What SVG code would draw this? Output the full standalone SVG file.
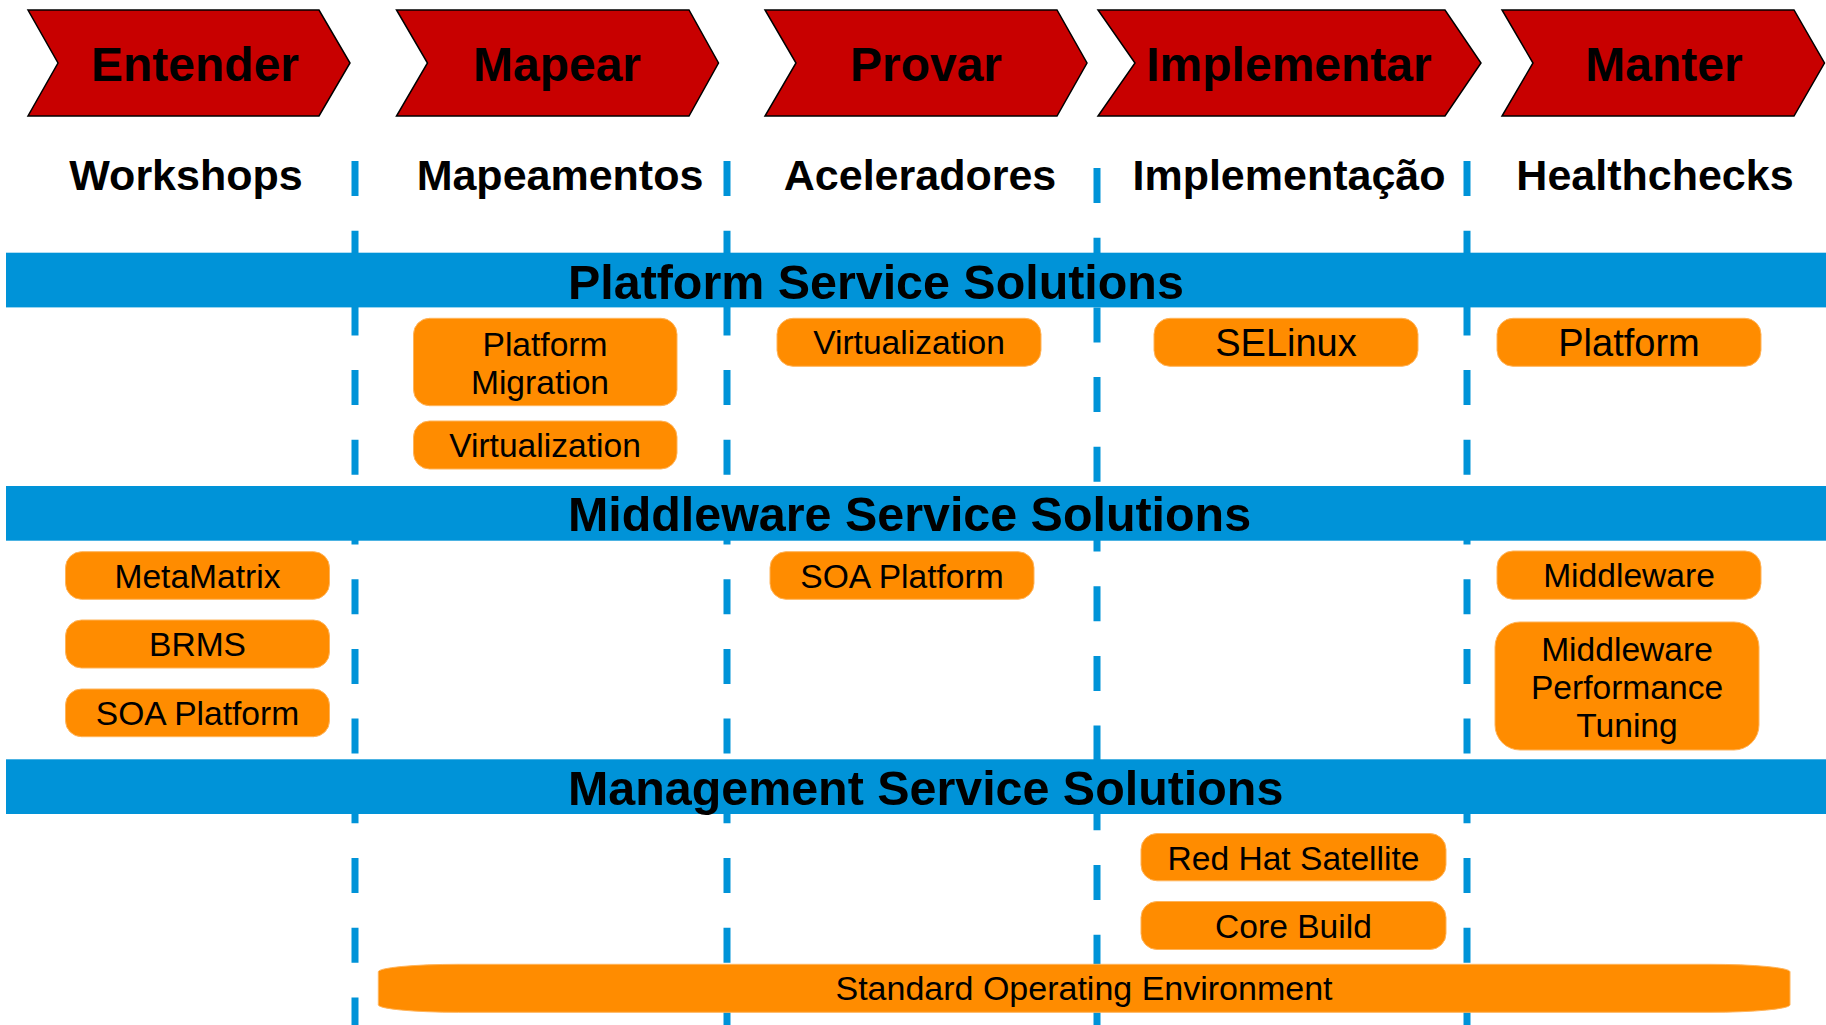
<svg xmlns="http://www.w3.org/2000/svg" width="1826" height="1025" viewBox="0 0 1826 1025">
<style>
.chev{fill:#C80000;stroke:#000;stroke-width:1.5}
.chevt{font-family:"Liberation Sans",Arial,sans-serif;font-weight:bold;font-size:48px;fill:#000;text-anchor:middle}
.hdr{font-family:"Liberation Sans",Arial,sans-serif;font-weight:bold;font-size:43px;fill:#000;text-anchor:middle}
.dash{stroke:#0093D8;stroke-width:7;fill:none;stroke-dasharray:35 34.7}
.band{fill:#0093D8}
.bandt{font-family:"Liberation Sans",Arial,sans-serif;font-weight:bold;font-size:48.4px;fill:#000}
.box{fill:#FF8C00;stroke:#FFB45A;stroke-width:1}
.bt{font-family:"Liberation Sans",Arial,sans-serif;font-size:33.6px;fill:#000;text-anchor:middle}
.bt38{font-family:"Liberation Sans",Arial,sans-serif;font-size:38px;fill:#000;text-anchor:middle}
</style>
<rect width="1826" height="1025" fill="#fff"/>

<g id="connectors">
<line class="dash" x1="355" y1="161" x2="355" y2="1025"/>
<line class="dash" x1="727" y1="161" x2="727" y2="1025"/>
<line class="dash" x1="1097" y1="168" x2="1097" y2="1025"/>
<line class="dash" x1="1467" y1="161" x2="1467" y2="1025"/>
</g>

<g id="phase-entender">
<polygon class="chev" points="28,10 319,10 350,63 319,116 28,116 58,63"/>
<text class="chevt" x="195" y="81">Entender</text>
</g>
<g id="phase-mapear">
<polygon class="chev" points="396.5,10 689,10 718.5,63 689,116 396.5,116 427.5,63"/>
<text class="chevt" x="557" y="81">Mapear</text>
</g>
<g id="phase-provar">
<polygon class="chev" points="765,10 1057,10 1087,63 1057,116 765,116 796,63"/>
<text class="chevt" x="926" y="81">Provar</text>
</g>
<g id="phase-implementar">
<polygon class="chev" points="1098,10 1445,10 1481,63 1445,116 1098,116 1135,63"/>
<text class="chevt" x="1289" y="81">Implementar</text>
</g>
<g id="phase-manter">
<polygon class="chev" points="1502,10 1794,10 1824.5,63 1794,116 1502,116 1533,63"/>
<text class="chevt" x="1664" y="81">Manter</text>
</g>

<g id="headers">
<text class="hdr" x="186" y="190">Workshops</text>
<text class="hdr" x="560" y="190">Mapeamentos</text>
<text class="hdr" x="920" y="190">Aceleradores</text>
<text class="hdr" x="1289" y="190">Implementação</text>
<text class="hdr" x="1655" y="190">Healthchecks</text>
</g>

<g id="band-platform">
<rect class="band" x="6" y="252.7" width="1820" height="54.7"/>
<text class="bandt" x="568" y="298.5">Platform Service Solutions</text>
</g>
<g id="band-middleware">
<rect class="band" x="6" y="486" width="1820" height="54.7"/>
<text class="bandt" x="568" y="531">Middleware Service Solutions</text>
</g>
<g id="band-management">
<rect class="band" x="6" y="759.3" width="1820" height="54.7"/>
<text class="bandt" x="568" y="805">Management Service Solutions</text>
</g>

<g id="box-platform-migration">
<rect class="box" x="413.5" y="318.3" width="263.5" height="87.4" rx="16"/>
<text class="bt" x="545" y="355.5">Platform</text>
<text class="bt" x="540" y="393.5">Migration</text>
</g>
<g id="box-virtualization-mapear">
<rect class="box" x="413.5" y="421" width="263.5" height="48" rx="16"/>
<text class="bt" x="545" y="457">Virtualization</text>
</g>
<g id="box-virtualization-provar">
<rect class="box" x="777" y="318.3" width="264" height="48" rx="16"/>
<text class="bt" x="909" y="354.3">Virtualization</text>
</g>
<g id="box-selinux">
<rect class="box" x="1154" y="318.3" width="264" height="48" rx="16"/>
<text class="bt38" x="1286" y="356">SELinux</text>
</g>
<g id="box-platform">
<rect class="box" x="1497" y="318.3" width="264" height="48" rx="16"/>
<text class="bt38" x="1629" y="356">Platform</text>
</g>
<g id="box-metamatrix">
<rect class="box" x="65.5" y="551.7" width="264" height="47.6" rx="16"/>
<text class="bt" x="197.5" y="587.5">MetaMatrix</text>
</g>
<g id="box-brms">
<rect class="box" x="65.5" y="620" width="264" height="48" rx="16"/>
<text class="bt" x="197.5" y="656">BRMS</text>
</g>
<g id="box-soa-left">
<rect class="box" x="65.5" y="689" width="264" height="47.7" rx="16"/>
<text class="bt" x="197.5" y="725">SOA Platform</text>
</g>
<g id="box-soa-provar">
<rect class="box" x="770" y="551.7" width="264" height="47.6" rx="16"/>
<text class="bt" x="902" y="587.5">SOA Platform</text>
</g>
<g id="box-middleware">
<rect class="box" x="1497" y="551" width="264" height="48.3" rx="16"/>
<text class="bt" x="1629" y="587.2">Middleware</text>
</g>
<g id="box-mpt">
<rect class="box" x="1495" y="622" width="264" height="128" rx="25"/>
<text class="bt" x="1627" y="660.5">Middleware</text>
<text class="bt" x="1627" y="698.5">Performance</text>
<text class="bt" x="1627" y="736.5">Tuning</text>
</g>
<g id="box-satellite">
<rect class="box" x="1141" y="833.5" width="305" height="47.3" rx="16"/>
<text class="bt" x="1293.5" y="870">Red Hat Satellite</text>
</g>
<g id="box-core-build">
<rect class="box" x="1141" y="901.5" width="305" height="48" rx="16"/>
<text class="bt" x="1293.5" y="938">Core Build</text>
</g>
<g id="box-soe">
<rect class="box" x="378.3" y="964.3" width="1411.7" height="48" rx="80" ry="7.5"/>
<text class="bt" x="1084" y="1000" style="font-size:34px">Standard Operating Environment</text>
</g>
</svg>
